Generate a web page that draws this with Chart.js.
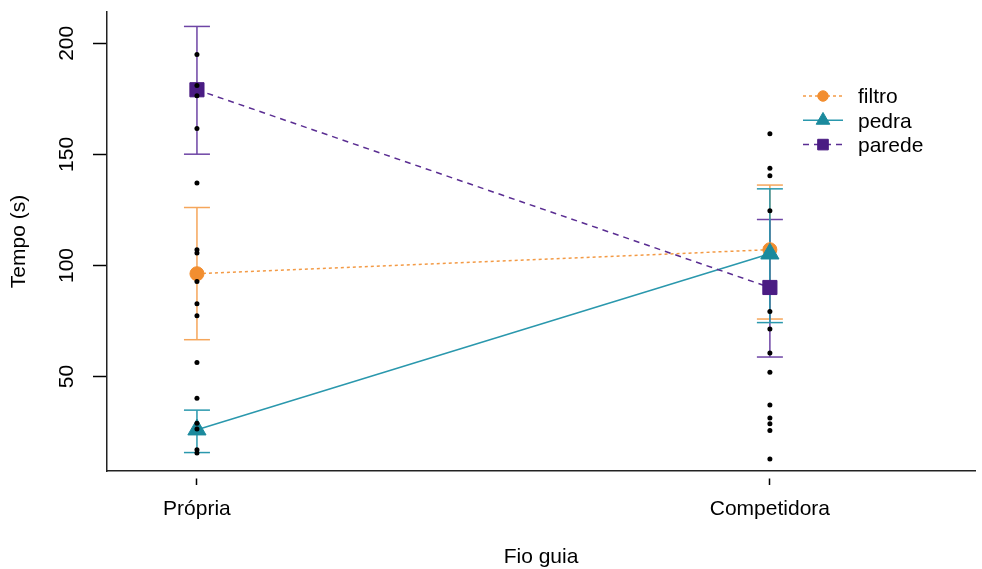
<!DOCTYPE html>
<html>
<head>
<meta charset="utf-8">
<script src="https://cdn.jsdelivr.net/npm/chart.js@4.4.0/dist/chart.umd.min.js"></script>
<style>
  html, body { margin: 0; padding: 0; background: #fff; }
</style>
</head>
<body>
<canvas id="graficoFio" width="982" height="569"></canvas>
<script>
// niveis do fator e posicoes no eixo x
const fioGuia = ['Própria', 'Competidora'];
const fioPos = [1, 2];
const grupos = ['filtro', 'pedra', 'parede'];
const ticksY = [50, 100, 150, 200];

// medias e intervalos
const mediaFiltro = [96.3, 107.1];
const infFiltro = [66.6, 75.9];
const supFiltro = [126.1, 136.2];

const mediaPedra = [26.1, 105.3];
const infPedra = [15.8, 74.3];
const supPedra = [34.9, 134.5];

const mediaParede = [179.1, 90.1];
const infParede = [150.1, 58.8];
const supParede = [207.6, 120.7];

// observacoes individuais
const obsPropria = [195.0, 181.0, 176.4, 161.7, 137.1, 107.1, 105.6, 92.8, 82.8, 77.4, 56.3, 40.3, 29.0, 26.4, 17.1, 15.6];
const obsCompetidora = [159.3, 143.8, 140.4, 124.6, 79.3, 71.4, 60.6, 52.0, 37.2, 31.3, 28.8, 25.7, 12.9];

const fonte = '"Liberation Sans", Arial, sans-serif';
const tam = 21;
Chart.defaults.font.family = fonte;
Chart.defaults.color = '#000';

function pontos(vals) {
  return fioPos.map((x, i) => ({x: x, y: vals[i]}));
}

function barras(inf, sup) {
  const pts = [];
  fioPos.forEach((x, i) => {
    if (i > 0) pts.push({x: (x + fioPos[i - 1]) / 2, y: null});
    pts.push({x: x, y: inf[i]}, {x: x, y: sup[i]});
  });
  return pts;
}

function barra(inf, sup, cor, ordem) {
  return {
    data: barras(inf, sup),
    borderColor: cor,
    borderWidth: 1.5,
    pointStyle: 'line',
    pointRadius: 13,
    pointBorderColor: cor,
    pointBorderWidth: 1.5,
    order: ordem
  };
}

const obs = [];
obsPropria.forEach(v => obs.push({x: fioPos[0], y: v}));
obsCompetidora.forEach(v => obs.push({x: fioPos[1], y: v}));

const legendaLinhas = {
  id: 'legendaLinhas',
  afterDraw(chart) {
    const ctx = chart.ctx;
    for (let i = 0; i < 3; i++) {
      const ds = chart.data.datasets[i];
      const yy = 96 + i * 24.3;
      ctx.save();
      ctx.strokeStyle = ds.borderColor;
      ctx.lineWidth = ds.borderWidth;
      ctx.setLineDash(ds.borderDash || []);
      ctx.beginPath();
      ctx.moveTo(803, yy);
      ctx.lineTo(843, yy);
      ctx.stroke();
      ctx.setLineDash([]);
      ctx.fillStyle = ds.pointBackgroundColor;
      ctx.strokeStyle = ds.pointBorderColor;
      ctx.lineWidth = 1;
      Chart.helpers.drawPoint(ctx, {pointStyle: ds.pointStyle, radius: ds.pointRadius * 0.75, rotation: 0, borderWidth: 1}, 823, yy);
      ctx.fillStyle = '#000';
      ctx.font = tam + 'px ' + fonte;
      ctx.textBaseline = 'middle';
      ctx.textAlign = 'left';
      ctx.fillText(grupos[i], 858, yy + 1.5);
      ctx.restore();
    }
  }
};

new Chart(document.getElementById('graficoFio').getContext('2d'), {
  type: 'line',
  data: {
    datasets: [
      {
        label: grupos[0],
        data: pontos(mediaFiltro),
        borderColor: '#F39A45',
        borderWidth: 1.5,
        borderDash: [3, 3],
        pointStyle: 'circle',
        pointRadius: 7,
        pointBackgroundColor: '#F28E30',
        pointBorderColor: '#F28E30',
        pointBorderWidth: 1,
        order: 3
      },
      {
        label: grupos[1],
        data: pontos(mediaPedra),
        borderColor: '#2A98AD',
        borderWidth: 1.5,
        pointStyle: 'triangle',
        pointRadius: 10.5,
        pointBackgroundColor: '#1B8A9D',
        pointBorderColor: '#1B8A9D',
        pointBorderWidth: 1,
        order: 2
      },
      {
        label: grupos[2],
        data: pontos(mediaParede),
        borderColor: '#5A2D92',
        borderWidth: 1.5,
        borderDash: [6, 5],
        pointStyle: 'rect',
        pointRadius: 10,
        pointBackgroundColor: '#4A1C83',
        pointBorderColor: '#4A1C83',
        pointBorderWidth: 1,
        order: 1
      },
      barra(infFiltro, supFiltro, '#F5A65B', 6),
      barra(infPedra, supPedra, '#2A98AD', 4),
      barra(infParede, supParede, '#6E45A5', 5),
      {
        data: obs,
        showLine: false,
        pointStyle: 'circle',
        pointRadius: 2.5,
        pointBackgroundColor: '#000',
        pointBorderColor: '#000',
        pointBorderWidth: 0,
        order: 0
      }
    ]
  },
  options: {
    responsive: false,
    animation: false,
    events: [],
    layout: {
      autoPadding: false,
      padding: {top: 12, right: 7, left: 0, bottom: 0}
    },
    plugins: {
      legend: {display: false},
      tooltip: {enabled: false}
    },
    scales: {
      x: {
        type: 'linear',
        position: 'bottom',
        min: 0.843,
        max: 2.358,
        afterBuildTicks: s => { s.ticks = fioPos.map(v => ({value: v})); },
        afterFit: s => { s.height = 98; s.paddingLeft = 0; s.paddingRight = 0; },
        ticks: {
          callback: v => fioGuia[Math.round(v) - 1],
          font: {size: tam},
          color: '#000',
          padding: 12,
          maxRotation: 0,
          autoSkip: false
        },
        grid: {
          drawOnChartArea: false,
          tickLength: 14,
          tickColor: '#000',
          tickWidth: 1.5,
          tickBorderDash: [0, 7, 7, 50]
        },
        border: {color: '#222', width: 1.5},
        title: {
          display: true,
          text: 'Fio guia',
          font: {size: tam, lineHeight: 1},
          color: '#000',
          padding: {top: 0, bottom: 1}
        }
      },
      y: {
        type: 'linear',
        min: 7.5,
        max: 214.1,
        afterBuildTicks: s => { s.ticks = ticksY.map(v => ({value: v})); },
        afterFit: s => { s.width = 107; s.paddingTop = 0; s.paddingBottom = 0; },
        ticks: {
          font: {size: tam},
          color: '#000',
          minRotation: 90,
          maxRotation: 90,
          crossAlign: 'center',
          padding: 8
        },
        grid: {
          drawOnChartArea: false,
          tickLength: 14,
          tickColor: '#000',
          tickWidth: 1.5
        },
        border: {color: '#222', width: 1.5},
        title: {
          display: true,
          text: 'Tempo (s)',
          font: {size: tam, lineHeight: 1},
          color: '#000',
          padding: {top: 9, bottom: 0}
        }
      }
    }
  },
  plugins: [legendaLinhas]
});
</script>
</body>
</html>
